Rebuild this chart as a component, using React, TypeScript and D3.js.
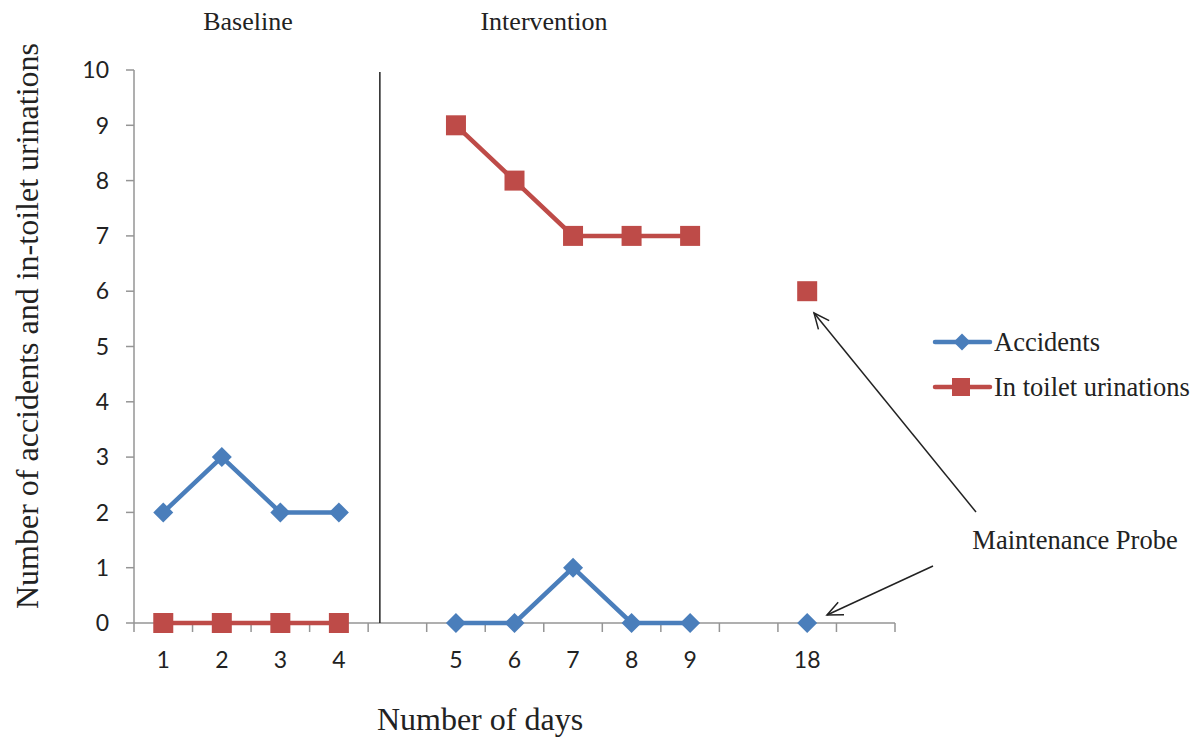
import React from "react";
import * as d3 from "d3";

const categories = ["1", "2", "3", "4", "gap1", "5", "6", "7", "8", "9", "gap2", "18", "gap3"];
const tickLabels = ["1", "2", "3", "4", "", "5", "6", "7", "8", "9", "", "18", ""];
const accidents: (number | null)[] = [2, 3, 2, 2, null, 0, 0, 1, 0, 0, null, 0, null];
const inToilet: (number | null)[] = [0, 0, 0, 0, null, 9, 8, 7, 7, 7, null, 6, null];
const yTicks = [0, 1, 2, 3, 4, 5, 6, 7, 8, 9, 10];
const seriesNames = ["Accidents", "In toilet urinations"];

const W = 1198, H = 738;
const BLUE = "#4A7EBB", RED = "#BE4B48", AXIS = "#959595";
const SERIF = "'Liberation Serif', 'Times New Roman', serif";
const SANS = "Lato, 'Open Sans', sans-serif";

function arrowHead(x1: number, y1: number, x2: number, y2: number, len = 17, ang = 0.42) {
  const a = Math.atan2(y1 - y2, x1 - x2);
  const p1 = [x2 + len * Math.cos(a + ang), y2 + len * Math.sin(a + ang)];
  const p2 = [x2 + len * Math.cos(a - ang), y2 + len * Math.sin(a - ang)];
  return `M${p1[0]},${p1[1]}L${x2},${y2}L${p2[0]},${p2[1]}`;
}

export default function App() {
  const x = d3.scaleBand<string>().domain(categories).range([134, 895]).padding(0);
  const y = d3.scaleLinear().domain([0, 10]).range([623, 70]);
  const cx = (i: number) => (x(categories[i]) as number) + x.bandwidth() / 2;

  const line = d3
    .line<number | null>()
    .defined((d) => d !== null)
    .x((_, i) => cx(i))
    .y((d) => y(d as number));

  const boundaries = categories.map((c) => x(c) as number).concat([x.range()[1]]);
  const phaseX = (x("gap1") as number) + x.bandwidth() * 0.2;

  const diamond = (px: number, py: number, r = 10) =>
    `M${px},${py - r}L${px + r},${py}L${px},${py + r}L${px - r},${py}Z`;

  const legendY = [342, 387];

  return (
    <svg width={W} height={H} style={{ position: "absolute", left: 0, top: 0, background: "#fff" }}>
      {/* axes */}
      <line x1={134} x2={134} y1={y(10)} y2={y(0)} stroke={AXIS} strokeWidth={1.5} />
      <line x1={134} x2={895} y1={y(0)} y2={y(0)} stroke={AXIS} strokeWidth={1.5} />
      {yTicks.map((t) => (
        <g key={t}>
          <line x1={126} x2={134} y1={y(t)} y2={y(t)} stroke={AXIS} strokeWidth={1.5} />
          <text x={109} y={y(t)} dy="0.36em" textAnchor="end" fontFamily={SANS} fontSize={23} fill="#222">
            {t}
          </text>
        </g>
      ))}
      {boundaries.map((b, i) => (
        <line key={i} x1={b} x2={b} y1={y(0)} y2={y(0) + 9} stroke={AXIS} strokeWidth={1.5} />
      ))}
      {tickLabels.map((l, i) => (
        <text key={i} x={cx(i)} y={668} textAnchor="middle" fontFamily={SANS} fontSize={23} fill="#222">
          {l}
        </text>
      ))}

      {/* phase line */}
      <line x1={phaseX} x2={phaseX} y1={72} y2={y(0)} stroke="#222" strokeWidth={1.5} />

      {/* series */}
      <path d={line(accidents) || ""} fill="none" stroke={BLUE} strokeWidth={4.5} />
      <path d={line(inToilet) || ""} fill="none" stroke={RED} strokeWidth={4.5} />
      {accidents.map((v, i) =>
        v === null ? null : <path key={"a" + i} d={diamond(cx(i), y(v))} fill={BLUE} />
      )}
      {inToilet.map((v, i) =>
        v === null ? null : (
          <rect key={"r" + i} x={cx(i) - 10} y={y(v) - 10} width={20} height={20} fill={RED} />
        )
      )}

      {/* phase titles */}
      <text x={248} y={30} textAnchor="middle" fontFamily={SERIF} fontSize={26} fill="#222">Baseline</text>
      <text x={544} y={30} textAnchor="middle" fontFamily={SERIF} fontSize={26} fill="#222">Intervention</text>

      {/* axis titles */}
      <text
        transform={`translate(38,326) rotate(-90)`}
        textAnchor="middle"
        fontFamily={SERIF}
        fontSize={32}
        fill="#222"
      >
        Number of accidents and in-toilet urinations
      </text>
      <text x={480} y={730} textAnchor="middle" fontFamily={SERIF} fontSize={32} fill="#222">
        Number of days
      </text>

      {/* legend */}
      {seriesNames.map((n, i) => (
        <g key={n}>
          <line x1={935} x2={990} y1={legendY[i]} y2={legendY[i]} stroke={i === 0 ? BLUE : RED} strokeWidth={4.5} strokeLinecap="round" />
          {i === 0 ? (
            <path d={diamond(962, legendY[i], 8.5)} fill={BLUE} />
          ) : (
            <rect x={952} y={legendY[i] - 9} width={18} height={18} fill={RED} />
          )}
          <text x={994} y={legendY[i]} dy="0.33em" fontFamily={SERIF} fontSize={26.5} fill="#222">
            {n}
          </text>
        </g>
      ))}

      {/* annotation */}
      <text x={1075} y={549} textAnchor="middle" fontFamily={SERIF} fontSize={26.5} fill="#222">
        Maintenance Probe
      </text>
      <g stroke="#222" strokeWidth={1.5} fill="none">
        <line x1={976} y1={512} x2={814} y2={313} />
        <path d={arrowHead(976, 512, 814, 313)} />
        <line x1={933} y1={566} x2={827} y2={615} />
        <path d={arrowHead(933, 566, 827, 615)} />
      </g>
    </svg>
  );
}
